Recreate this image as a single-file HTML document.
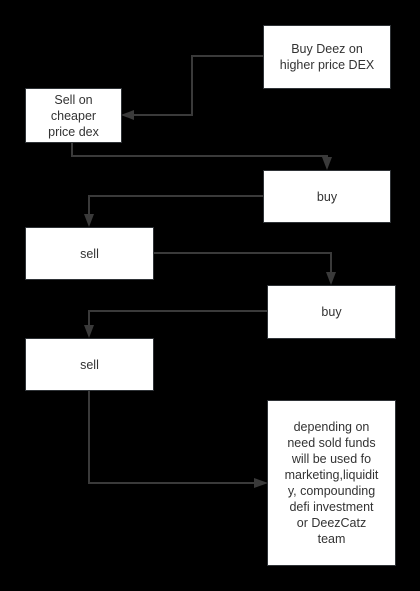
<!DOCTYPE html>
<html><head><style>
html,body{margin:0;padding:0;background:#000;}
body{width:420px;height:591px;position:relative;overflow:hidden;font-family:"Liberation Sans",sans-serif;}
.b{position:absolute;background:#fff;border:1.5px solid #2f3337;box-sizing:border-box;display:flex;align-items:center;justify-content:center;text-align:center;color:#333;font-size:12.5px;line-height:16px;}
svg{position:absolute;left:0;top:0;}
</style></head><body>
<svg width="420" height="591">
<g stroke="#3a3a3a" stroke-width="2" fill="none">
<polyline points="263,56 192,56 192,115 128,115"/>
<polyline points="72,142 72,156 327,156 327,163"/>
<polyline points="263,196 89,196 89,220"/>
<polyline points="153,253 331,253 331,278"/>
<polyline points="267,311 89,311 89,331"/>
<polyline points="89,390 89,483 260,483"/>
</g>
<g fill="#3a3a3a">
<polygon points="121,115 134,110 134,120"/>
<polygon points="327,170 322,157 332,157"/>
<polygon points="89,227 84,214 94,214"/>
<polygon points="331,285 326,272 336,272"/>
<polygon points="89,338 84,325 94,325"/>
<polygon points="268,483 254,478 254,488"/>
</g>
</svg>
<div class="b" style="left:263px;top:25px;width:128px;height:64px;">Buy Deez on<br>higher price DEX</div>
<div class="b" style="left:25px;top:88px;width:97px;height:55px;">Sell on<br>cheaper<br>price dex</div>
<div class="b" style="left:263px;top:170px;width:128px;height:53px;">buy</div>
<div class="b" style="left:25px;top:227px;width:129px;height:53px;">sell</div>
<div class="b" style="left:267px;top:285px;width:129px;height:54px;">buy</div>
<div class="b" style="left:25px;top:338px;width:129px;height:53px;">sell</div>
<div class="b" style="left:267px;top:400px;width:129px;height:166px;">depending on<br>need sold funds<br>will be used fo<br>marketing,liquidit<br>y, compounding<br>defi investment<br>or DeezCatz<br>team</div>
</body></html>
